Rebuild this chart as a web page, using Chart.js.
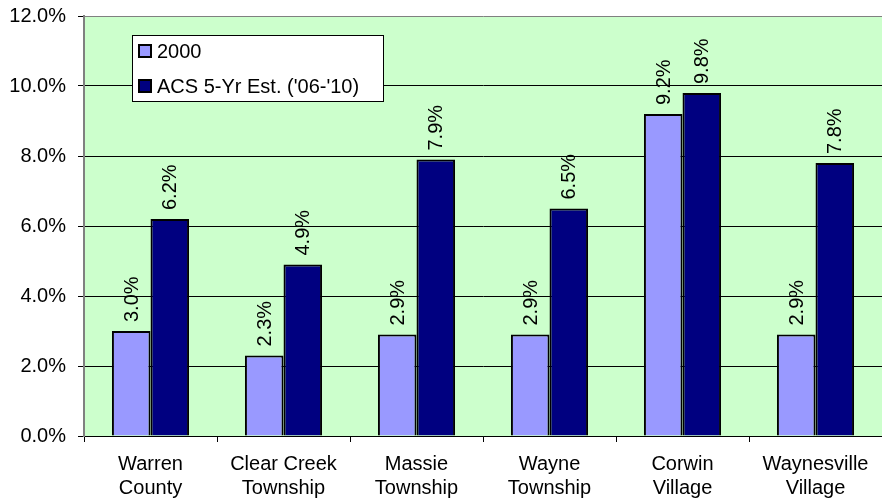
<!DOCTYPE html>
<html>
<head>
<meta charset="utf-8">
<script src="https://cdn.jsdelivr.net/npm/chart.js@4"></script>
<style>
  html, body { margin: 0; padding: 0; background: #fff; }
  #wrap { width: 882px; height: 503px; position: relative; }
</style>
</head>
<body>
<div id="wrap"><canvas id="grafico"></canvas></div>
<script>
// categorias e séries
const lugares = [
  ['Warren', 'County'],
  ['Clear Creek', 'Township'],
  ['Massie', 'Township'],
  ['Wayne', 'Township'],
  ['Corwin', 'Village'],
  ['Waynesville', 'Village']
];
const serie2000 = [3.0, 2.3, 2.9, 2.9, 9.2, 2.9];
const serieACS = [6.2, 4.9, 7.9, 6.5, 9.8, 7.8];
const nomesSeries = ['2000', "ACS 5-Yr Est. ('06-'10)"];
const coresSeries = ['#9999ff', '#000080'];

const fonte = 'Arial, "Liberation Sans", sans-serif';
const tamanho = 20;

// fundo verde só na área do gráfico
const fundoArea = {
  id: 'fundoArea',
  beforeDraw(chart) {
    const { ctx, chartArea: a } = chart;
    ctx.save();
    ctx.fillStyle = '#ccffcc';
    ctx.fillRect(a.left, a.top, a.right - a.left, a.bottom - a.top);
    ctx.restore();
  }
};

// rótulos verticais acima das barras
const rotulos = {
  id: 'rotulos',
  afterDatasetsDraw(chart) {
    const { ctx } = chart;
    ctx.save();
    ctx.font = tamanho + 'px ' + fonte;
    ctx.fillStyle = '#000';
    ctx.textAlign = 'left';
    ctx.textBaseline = 'middle';
    chart.data.datasets.forEach((ds, i) => {
      chart.getDatasetMeta(i).data.forEach((bar, j) => {
        ctx.save();
        ctx.translate(bar.x + 1, bar.y - 9);
        ctx.rotate(-Math.PI / 2);
        ctx.fillText(ds.data[j].toFixed(1) + '%', 0, 0);
        ctx.restore();
      });
    });
    ctx.restore();
  }
};

// legenda dentro da área do gráfico
const legendaCaixa = {
  id: 'legendaCaixa',
  afterDraw(chart) {
    const { ctx } = chart;
    const x = 132, y = 35, w = 251, h = 66;
    ctx.save();
    ctx.fillStyle = '#fff';
    ctx.fillRect(x, y, w, h);
    ctx.strokeStyle = '#000';
    ctx.lineWidth = 1;
    ctx.strokeRect(x + 0.5, y + 0.5, w, h);
    ctx.font = tamanho + 'px ' + fonte;
    ctx.textBaseline = 'middle';
    chart.data.datasets.forEach((ds, i) => {
      const cy = y + 16 + i * 35;
      ctx.fillStyle = ds.backgroundColor;
      ctx.fillRect(x + 6, cy - 7, 14, 14);
      ctx.lineWidth = 2;
      ctx.strokeRect(x + 7, cy - 6, 12, 12);
      ctx.fillStyle = '#000';
      ctx.fillText(ds.label, x + 25, cy + 1);
    });
    ctx.restore();
  }
};

new Chart(document.getElementById('grafico'), {
  type: 'bar',
  data: {
    labels: lugares,
    datasets: [
      { label: nomesSeries[0], data: serie2000, backgroundColor: coresSeries[0] },
      { label: nomesSeries[1], data: serieACS, backgroundColor: coresSeries[1] }
    ].map(ds => Object.assign(ds, {
      borderColor: '#000',
      borderWidth: 2,
      borderSkipped: 'bottom',
      categoryPercentage: 0.58,
      barPercentage: 1.0
    }))
  },
  options: {
    responsive: true,
    maintainAspectRatio: false,
    animation: false,
    layout: { padding: { top: 16, right: 0, left: 0, bottom: 0 } },
    plugins: { legend: { display: false }, tooltip: { enabled: false } },
    scales: {
      x: {
        grid: { drawOnChartArea: false, color: '#000', tickLength: 6, offset: true },
        border: { color: '#000', width: 1 },
        ticks: {
          color: '#000',
          font: { family: fonte, size: tamanho, lineHeight: 1.2 },
          maxRotation: 0,
          padding: 10
        },
        afterFit(s) { s.height = 67; s.paddingLeft = 0; s.paddingRight = 0; }
      },
      y: {
        min: 0,
        max: 12,
        ticks: {
          stepSize: 2,
          color: '#000',
          font: { family: fonte, size: tamanho },
          padding: 12,
          callback: v => v.toFixed(1) + '%'
        },
        grid: {
          color: ctx => ctx.tick && ctx.tick.value === 12 ? '#808080' : '#000',
          tickColor: '#000',
          tickLength: 6
        },
        border: { color: '#808080', width: 2 },
        // sem folga extra acima/abaixo do eixo
        afterFit(s) { s.width = 84; s.paddingTop = 0; s.paddingBottom = 0; }
      }
    }
  },
  plugins: [fundoArea, rotulos, legendaCaixa]
});
</script>
</body>
</html>
